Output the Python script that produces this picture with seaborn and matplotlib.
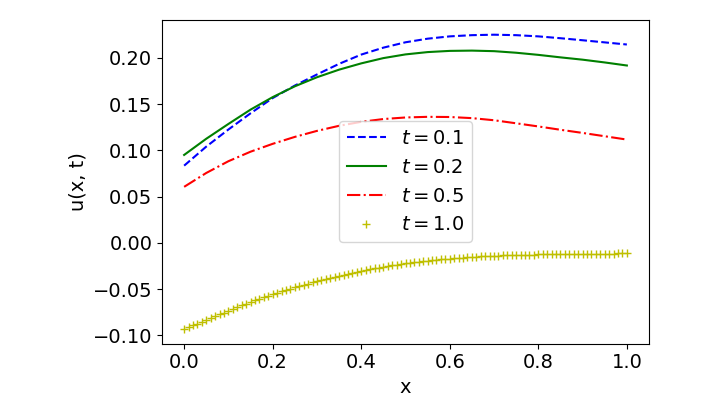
import numpy as np
import pandas as pd
import matplotlib
matplotlib.use("Agg")
import matplotlib.pyplot as plt
import seaborn as sns

# x grid for the line curves (read every 0.05)
x_lines = [0.00, 0.05, 0.10, 0.15, 0.20, 0.25, 0.30, 0.35, 0.40, 0.45, 0.50,
           0.55, 0.60, 0.65, 0.70, 0.75, 0.80, 0.85, 0.90, 0.95, 1.00]

u_t01 = [0.0834, 0.1040, 0.1225, 0.1400, 0.1565, 0.1700, 0.1820, 0.1935, 0.2035, 0.2110, 0.2168,
         0.2207, 0.2232, 0.2245, 0.2250, 0.2245, 0.2232, 0.2212, 0.2190, 0.2167, 0.2144]

u_t02 = [0.0950, 0.1125, 0.1285, 0.1440, 0.1575, 0.1692, 0.1790, 0.1872, 0.1940, 0.1997, 0.2037,
         0.2062, 0.2075, 0.2078, 0.2072, 0.2055, 0.2032, 0.2005, 0.1980, 0.1950, 0.1917]

u_t05 = [0.0605, 0.0755, 0.0882, 0.0985, 0.1070, 0.1145, 0.1210, 0.1265, 0.1308, 0.1338, 0.1355,
         0.1362, 0.1360, 0.1348, 0.1325, 0.1292, 0.1258, 0.1222, 0.1188, 0.1152, 0.1116]

# x grid for the marker series (101 markers)
x_markers = [round(i * 0.01, 2) for i in range(101)]

u_t10 = [-0.0930, -0.0911, -0.0892, -0.0873, -0.0854, -0.0835,
         -0.0815, -0.0795, -0.0775, -0.0755, -0.0735,
         -0.0716, -0.0697, -0.0678, -0.0659, -0.0640,
         -0.0623, -0.0606, -0.0589, -0.0572, -0.0555,
         -0.0540, -0.0525, -0.0510, -0.0495, -0.0480,
         -0.0467, -0.0454, -0.0441, -0.0428, -0.0415,
         -0.0403, -0.0391, -0.0379, -0.0367, -0.0355,
         -0.0345, -0.0335, -0.0325, -0.0315, -0.0305,
         -0.0296, -0.0287, -0.0278, -0.0269, -0.0260,
         -0.0252, -0.0244, -0.0236, -0.0228, -0.0220,
         -0.0214, -0.0209, -0.0203, -0.0198, -0.0192,
         -0.0188, -0.0183, -0.0179, -0.0174, -0.0170,
         -0.0167, -0.0163, -0.0160, -0.0157, -0.0153,
         -0.0151, -0.0148, -0.0146, -0.0143, -0.0141,
         -0.0139, -0.0137, -0.0136, -0.0134, -0.0132,
         -0.0131, -0.0130, -0.0129, -0.0127, -0.0126,
         -0.0125, -0.0124, -0.0123, -0.0122, -0.0121,
         -0.0120, -0.0120, -0.0119, -0.0118, -0.0118,
         -0.0118, -0.0117, -0.0117, -0.0116, -0.0116,
         -0.0116, -0.0116, -0.0115, -0.0115, -0.0115]

labels = [r"$t = 0.1$", r"$t = 0.2$", r"$t = 0.5$", r"$t = 1.0$"]
x_label = "x"
y_label = "u(x, t)"

plt.rcParams["font.size"] = 14

fig = plt.figure(figsize=(7.03, 4.13), dpi=100)
ax = fig.add_axes([162 / 703, (413 - 343.5) / 413, 487 / 703, (343.5 - 20) / 413])

sns.lineplot(x=x_lines, y=u_t01, ax=ax, color="b", linestyle="--", linewidth=1.5,
             label=labels[0], sort=False, estimator=None)
sns.lineplot(x=x_lines, y=u_t02, ax=ax, color="g", linestyle="-", linewidth=1.5,
             label=labels[1], sort=False, estimator=None)
sns.lineplot(x=x_lines, y=u_t05, ax=ax, color="r", linestyle="-.", linewidth=1.5,
             label=labels[2], sort=False, estimator=None)
sns.lineplot(x=x_markers, y=u_t10, ax=ax, color="y", linestyle="", marker="+",
             markersize=6, markeredgewidth=1.0, markeredgecolor="y",
             label=labels[3], sort=False, estimator=None)

ax.margins(x=0.05, y=0.05)
ax.set_xlabel(x_label, fontsize=14)
ax.set_ylabel(y_label, fontsize=14)
ax.tick_params(labelsize=14)
ax.legend(loc="center", fontsize=14)

fig.savefig("out.png", dpi=100)
